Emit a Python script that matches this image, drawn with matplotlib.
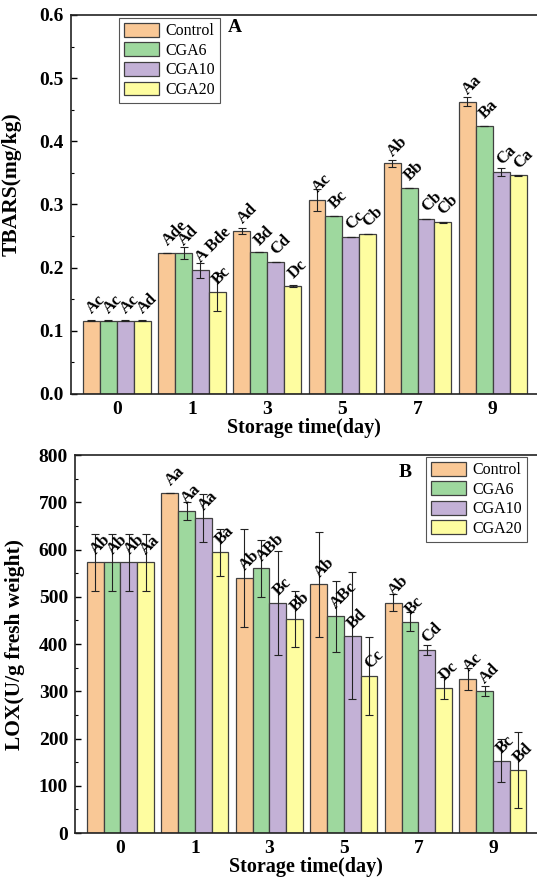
import matplotlib
matplotlib.use('Agg')
import matplotlib.pyplot as plt
import numpy as np

plt.rcParams['font.family'] = ['Liberation Serif', 'DejaVu Serif']

# Data
days = ['0', '1', '3', '5', '7', '9']
groups = ['Control', 'CGA6', 'CGA10', 'CGA20']
colors = ['#F9C896', '#9ED89E', '#C3B1D6', '#FEFDA0']

tbars_control = [0.116, 0.223, 0.258, 0.307, 0.365, 0.463]
tbars_cga6 = [0.116, 0.223, 0.224, 0.282, 0.326, 0.424]
tbars_cga10 = [0.116, 0.196, 0.209, 0.248, 0.277, 0.351]
tbars_cga20 = [0.116, 0.161, 0.171, 0.253, 0.272, 0.346]
tbars_err_control = [0.001, 0.0, 0.005, 0.017, 0.006, 0.007]
tbars_err_cga6 = [0.001, 0.009, 0.0, 0.0, 0.0, 0.0]
tbars_err_cga10 = [0.001, 0.012, 0.0, 0.0, 0.0, 0.006]
tbars_err_cga20 = [0.001, 0.030, 0.002, 0.0, 0.001, 0.001]
tbars_letters = [['Ac', 'Ac', 'Ac', 'Ad'],
                 ['Ade', 'Ad', 'A Bde', 'Bc'],
                 ['Ad', 'Bd', 'Cd', 'Dc'],
                 ['Ac', 'Bc', 'Cc', 'Cb'],
                 ['Ab', 'Bb', 'Cb', 'Cb'],
                 ['Aa', 'Ba', 'Ca', 'Ca']]

lox_control = [573, 719, 540, 526, 487, 326]
lox_cga6 = [573, 681, 560, 459, 447, 300]
lox_cga10 = [573, 666, 487, 418, 387, 153]
lox_cga20 = [573, 594, 453, 332, 307, 133]
lox_err_control = [60, 0, 104, 111, 18, 23]
lox_err_cga6 = [60, 19, 61, 75, 20, 11]
lox_err_cga10 = [60, 51, 110, 134, 11, 46]
lox_err_cga20 = [60, 49, 60, 83, 23, 80]
lox_letters = [['Ab', 'Ab', 'Ab', 'Aa'],
               ['Aa', 'Aa', 'Aa', 'Ba'],
               ['Ab', 'ABb', 'Bc', 'Bb'],
               ['Ab', 'ABc', 'Bd', 'Cc'],
               ['Ab', 'Bc', 'Cd', 'Dc'],
               ['Ac', 'Ad', 'Bc', 'Bd']]


def draw_panel(ax, values, errors, letters, ylim, major, minor, ylabel, label_xy,
               tag, tag_pos, leg_loc, leg_anchor):
    x = np.arange(len(days))
    w = 0.225
    for i, (vals, errs) in enumerate(zip(values, errors)):
        pos = x + (i - 1.5) * w
        ax.bar(pos, vals, w, color=colors[i], edgecolor='#404040', linewidth=0.9,
               label=groups[i], zorder=2)
        ax.errorbar(pos, vals, yerr=errs, fmt='none', ecolor='#222222', elinewidth=0.8,
                    capsize=3, capthick=0.8, zorder=3)
        for j in range(len(days)):
            ax.annotate(letters[j][i], (pos[j], vals[j]), xytext=(-1.5, 7),
                        textcoords='offset points', rotation=45, rotation_mode='anchor',
                        ha='left', va='center', fontsize=12, fontweight='bold', zorder=4)
    ax.set_xlim(-0.61, 5.59)
    ax.set_ylim(*ylim)
    ax.set_xticks(x)
    ax.set_xticklabels(days, fontsize=14, fontweight='bold')
    ax.set_yticks(major)
    ax.set_yticks(minor, minor=True)
    ax.tick_params(axis='x', length=0, pad=5)
    ax.tick_params(axis='y', which='major', direction='in', length=4, width=1, pad=5)
    ax.tick_params(axis='y', which='minor', direction='in', length=2.5, width=0.8)
    for lab in ax.get_yticklabels():
        lab.set_fontsize(14)
        lab.set_fontweight('bold')
    ax.set_xlabel('Storage time(day)', fontsize=14.5, fontweight='bold', labelpad=0)
    ax.set_ylabel(ylabel, fontsize=15.5, fontweight='bold')
    ax.yaxis.set_label_coords(*label_xy)
    ax.spines['right'].set_visible(False)
    for s in ['left', 'bottom', 'top']:
        ax.spines[s].set_linewidth(1.2)
        ax.spines[s].set_color('#222222')
    ax.text(tag_pos[0], tag_pos[1], tag, transform=ax.transAxes, fontsize=14,
            fontweight='bold', ha='center', va='center')
    leg = ax.legend(loc=leg_loc, bbox_to_anchor=leg_anchor, borderaxespad=0,
                    fontsize=11.5, fancybox=False, edgecolor='#555555', framealpha=1,
                    handlelength=2.2, handleheight=0.95, labelspacing=0.2,
                    handletextpad=0.4, borderpad=0.3)
    leg.get_frame().set_linewidth(0.8)


fig = plt.figure(figsize=(5.37, 8.8), dpi=100)
ax1 = fig.add_axes([0.1322, 0.5523, 0.868, 0.4307])
ax2 = fig.add_axes([0.1397, 0.0534, 0.860, 0.4295])

draw_panel(ax1,
           [tbars_control, tbars_cga6, tbars_cga10, tbars_cga20],
           [tbars_err_control, tbars_err_cga6, tbars_err_cga10, tbars_err_cga20],
           tbars_letters, (0, 0.6), np.arange(0, 0.61, 0.1), np.arange(0.05, 0.6, 0.1),
           'TBARS(mg/kg)', (-0.105, 0.554), 'A', (0.352, 0.966), 'upper left', (0.103, 0.992))
ax1.set_yticklabels(['0.0', '0.1', '0.2', '0.3', '0.4', '0.5', '0.6'], fontsize=14, fontweight='bold')

draw_panel(ax2,
           [lox_control, lox_cga6, lox_cga10, lox_cga20],
           [lox_err_control, lox_err_cga6, lox_err_cga10, lox_err_cga20],
           lox_letters, (0, 800), np.arange(0, 801, 100), np.arange(50, 800, 100),
           'LOX(U/g fresh weight)', (-0.108, 0.5), 'B', (0.714, 0.955), 'upper right', (0.978, 0.995))

fig.savefig('out.png', dpi=100)
